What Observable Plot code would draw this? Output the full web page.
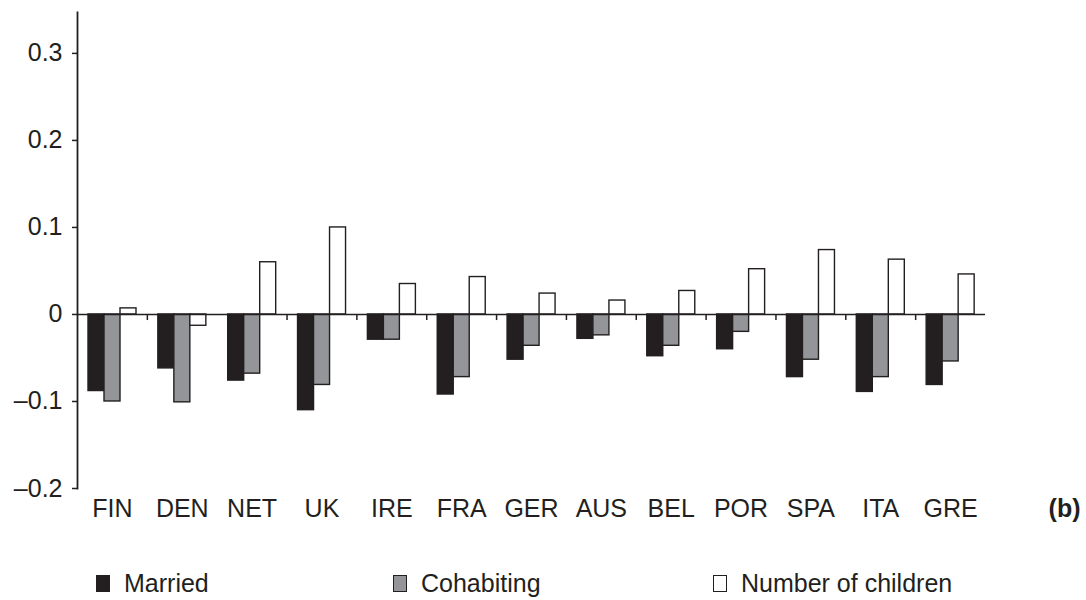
<!DOCTYPE html>
<html>
<head>
<meta charset="utf-8">
<script src="https://cdn.jsdelivr.net/npm/d3@7"></script>
<script src="https://cdn.jsdelivr.net/npm/@observablehq/plot@0.6"></script>
<style>
  html, body { margin: 0; padding: 0; background: #fff; }
  #wrap { position: relative; width: 1086px; height: 600px; font-family: "Liberation Sans", Arial, sans-serif; color: #231f20; }
  #chart svg { display: block; }
  .item { position: absolute; top: 570px; height: 26px; display: flex; align-items: center; font-size: 25px; line-height: 26px; }
  .sw { width: 14px; height: 17px; border: 1.5px solid #231f20; box-sizing: border-box; margin-right: 14px; }
</style>
</head>
<body>
<div id="wrap">
  <div id="chart"></div>
  <div id="legend"></div>
</div>
<script>
// ---- data ----
const countries = ["FIN", "DEN", "NET", "UK", "IRE", "FRA", "GER", "AUS", "BEL", "POR", "SPA", "ITA", "GRE"];
const married    = [-0.088, -0.062, -0.076, -0.110, -0.029, -0.092, -0.052, -0.028, -0.048, -0.040, -0.072, -0.089, -0.081];
const cohabiting = [-0.100, -0.101, -0.068, -0.081, -0.029, -0.072, -0.036, -0.024, -0.036, -0.020, -0.052, -0.072, -0.054];
const children   = [0.007, -0.013, 0.060, 0.100, 0.035, 0.043, 0.024, 0.016, 0.027, 0.052, 0.074, 0.063, 0.046];
const seriesNames = ["Married", "Cohabiting", "Number of children"];
const seriesColors = ["#231f20", "#939598", "#ffffff"];
const yTicks = [-0.2, -0.1, 0, 0.1, 0.2, 0.3];
const tickAfter = ["FIN", "NET", "UK", "IRE", "FRA", "GER", "AUS", "BEL", "POR", "SPA", "ITA"];
const panelTag = "(b)";

// ---- build ----
const seriesValues = [married, cohabiting, children];
const rows = countries.flatMap((c, i) => seriesNames.map((s, j) => ({country: c, series: s, value: seriesValues[j][i]})));

const W = 1086, ML = 77, MR = 101, MT = 12, MB = 42;
const step = (W - ML - MR) / countries.length;
const barW = 16, off = 11;
const ink = "#231f20";
const fmt = d => d === 0 ? "0" : d.toFixed(1).replace("-", "\u2013");

const plot = Plot.plot({
  width: W,
  height: 530,
  marginLeft: ML,
  marginRight: MR,
  marginTop: MT,
  marginBottom: MB,
  style: {fontFamily: "'Liberation Sans', Arial, sans-serif", color: ink, background: "#fff"},
  x: {domain: countries, padding: 0, round: false, axis: null},
  y: {domain: [-0.2, 0.347], axis: null},
  marks: [
    ...seriesNames.map((s, j) => Plot.barY(rows.filter(d => d.series === s), {
      x: "country", y: "value",
      fill: seriesColors[j], stroke: ink, strokeWidth: 1.4,
      insetLeft: off + j * barW, insetRight: step - off - (j + 1) * barW
    })),
    Plot.ruleY([0], {stroke: ink, strokeWidth: 1.5}),
    Plot.ruleX(tickAfter, {x: d => d, y1: 0, y2: -0.007, dx: step / 2, stroke: ink, strokeWidth: 1.5}),
    Plot.axisY({ticks: yTicks, tickFormat: fmt, tickSize: 5, tickPadding: 10, fontSize: 25, stroke: ink, strokeWidth: 1.5, label: null}),
    Plot.axisX({tickSize: 0, tickPadding: 11, fontSize: 25, label: null}),
    Plot.frame({anchor: "left", stroke: ink, strokeWidth: 1.8}),
    Plot.text([panelTag], {text: d => d, frameAnchor: "bottom-right", dx: 95, dy: 11, textAnchor: "end", lineAnchor: "top", fontWeight: "bold", fontSize: 25, fill: ink})
  ]
});
document.getElementById("chart").appendChild(plot);

// ---- legend ----
const legendX = [96, 393, 713];
const legend = document.getElementById("legend");
seriesNames.forEach((s, j) => {
  const item = document.createElement("div");
  item.className = "item";
  item.style.left = legendX[j] + "px";
  const sw = document.createElement("span");
  sw.className = "sw";
  sw.style.background = seriesColors[j];
  const t = document.createElement("span");
  t.textContent = s;
  item.appendChild(sw);
  item.appendChild(t);
  legend.appendChild(item);
});
</script>
</body>
</html>
